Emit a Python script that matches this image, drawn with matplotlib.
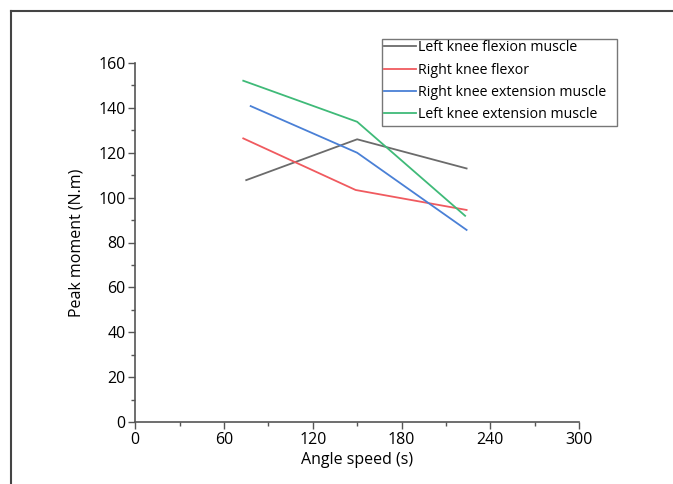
import matplotlib
matplotlib.use("Agg")
import matplotlib.pyplot as plt
from matplotlib.lines import Line2D
from matplotlib.patches import Rectangle
from matplotlib.ticker import MultipleLocator

plt.rcParams['font.family'] = ['Open Sans', 'DejaVu Sans']

series_names = ["Left knee flexion muscle", "Right knee flexor",
                "Right knee extension muscle", "Left knee extension muscle"]
x_left_flex = [75, 150, 224]
y_left_flex = [107.8, 126.0, 113.0]
x_right_flex = [73, 149, 224]
y_right_flex = [126.4, 103.4, 94.5]
x_right_ext = [78, 150, 224]
y_right_ext = [140.8, 120.0, 85.6]
x_left_ext = [73, 150, 223]
y_left_ext = [152.1, 133.8, 91.9]
colors = ["#6b6b6b", "#f05a5f", "#4a80d6", "#3fba78"]

xticks = [0, 60, 120, 180, 240, 300]
yticks = [0, 20, 40, 60, 80, 100, 120, 140, 160]

W, H = 673, 484
fig = plt.figure(figsize=(W/100, H/100), dpi=100)
ax = fig.add_axes([135.3/W, 1-422/H, (579-135.3)/W, (422-63)/H])

xs = [x_left_flex, x_right_flex, x_right_ext, x_left_ext]
ys = [y_left_flex, y_right_flex, y_right_ext, y_left_ext]
for x, y, c, n in zip(xs, ys, colors, series_names):
    ax.plot(x, y, color=c, lw=1.3, label=n)

ax.set_xlim(0, 300)
ax.set_ylim(0, 160)
ax.set_xticks(xticks)
ax.set_yticks(yticks)
ax.xaxis.set_minor_locator(MultipleLocator(30))
ax.yaxis.set_minor_locator(MultipleLocator(10))
for s in ['top', 'right']:
    ax.spines[s].set_visible(False)
for s in ['left', 'bottom']:
    ax.spines[s].set_color('#555555')
    ax.spines[s].set_linewidth(1.2)
ax.tick_params(which='major', direction='out', length=5, width=1, color='#555555',
               labelsize=11.5, pad=2)
ax.tick_params(which='minor', direction='out', length=3, width=1, color='#555555')
ax.set_xlabel("Angle speed (s)", fontsize=11.5, labelpad=3)
ax.set_ylabel("Peak moment (N.m)", fontsize=11.5, labelpad=10)

leg = fig.legend(loc='upper left', bbox_to_anchor=(381/W, 1-37.5/H),
                 fontsize=10.2, handlelength=2.3, handletextpad=0.1,
                 borderpad=0.2, labelspacing=0.52, borderaxespad=0,
                 frameon=False)
fig.add_artist(Rectangle((381.5/W, 1-125.5/H), (617-381.5)/W, (125.5-38.5)/H,
                         transform=fig.transFigure, fill=False,
                         edgecolor='#777777', lw=1.0))

# outer frame (cropped border)
fig.add_artist(Line2D([11/W, 1], [1-10.5/H, 1-10.5/H], transform=fig.transFigure,
                      color='#444444', lw=1.5))
fig.add_artist(Line2D([11/W, 11/W], [0, 1-10.5/H], transform=fig.transFigure,
                      color='#444444', lw=1.5))

fig.savefig("out.png", dpi=100)
